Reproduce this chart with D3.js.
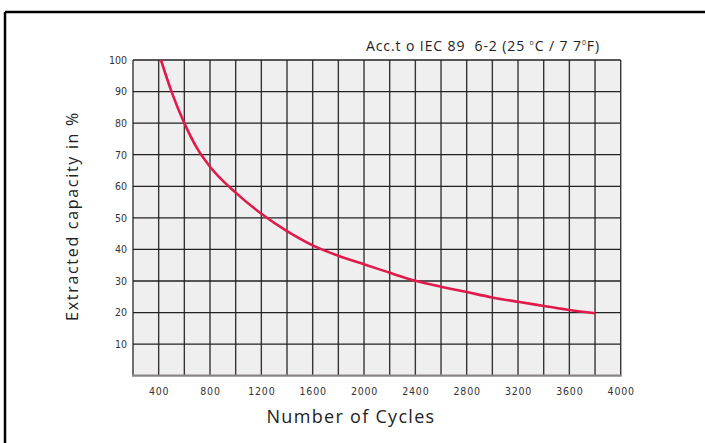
<!DOCTYPE html>
<html>
<head>
<meta charset="utf-8">
<script src="https://cdn.jsdelivr.net/npm/d3@7"></script>
<style>
	body { margin: 0; background: #fff; }
	svg { display: block; }
</style>
</head>
<body>
<script>
//	chart values
var cycles   = [418, 500, 600, 700, 800, 1000, 1200, 1400, 1600, 1800, 2000, 2200, 2400, 2600, 2800, 3000, 3200, 3400, 3600, 3800];
var capacity = [100, 90, 80, 72, 66.2, 58, 51.3, 45.8, 41.3, 38, 35.3, 32.6, 30.1, 28.2, 26.5, 24.8, 23.4, 22.1, 20.8, 19.8];
var xTickLabels = [400, 800, 1200, 1600, 2000, 2400, 2800, 3200, 3600, 4000];
var yTickLabels = [10, 20, 30, 40, 50, 60, 70, 80, 90, 100];
var xGrid = d3.range(200, 4001, 200);
var yGrid = d3.range(0, 101, 10);

var width = 705, height = 443;
var plot = {left: 133, right: 620.7, top: 60, bottom: 375.7};

var svg = d3.select("body").append("svg").attr("width", width).attr("height", height);

//	frame (left + top only, rest is cut off)
svg.append("line").attr("x1", 5).attr("y1", 12).attr("x2", width).attr("y2", 12).attr("stroke", "#000").attr("stroke-width", 2.5);
svg.append("line").attr("x1", 5).attr("y1", 12).attr("x2", 5).attr("y2", height).attr("stroke", "#000").attr("stroke-width", 2.5);

var x = d3.scaleLinear().domain([200, 4000]).range([plot.left, plot.right]);
var y = d3.scaleLinear().domain([0, 100]).range([plot.bottom, plot.top]);

svg.append("rect").attr("x", plot.left).attr("y", plot.top)
	.attr("width", plot.right - plot.left).attr("height", plot.bottom - plot.top)
	.attr("fill", "#efefef");

//	grid
svg.append("g").selectAll("line").data(xGrid).enter().append("line")
	.attr("x1", function(d){ return x(d); }).attr("x2", function(d){ return x(d); })
	.attr("y1", plot.top).attr("y2", plot.bottom)
	.attr("stroke", "#3a3535").attr("stroke-width", 1.4);
svg.append("g").selectAll("line").data(yGrid.slice(1)).enter().append("line")
	.attr("x1", plot.left).attr("x2", plot.right)
	.attr("y1", function(d){ return y(d); }).attr("y2", function(d){ return y(d); })
	.attr("stroke", "#222").attr("stroke-width", 1.3);
//	bottom axis line is grey
svg.append("line").attr("x1", plot.left - 1).attr("x2", plot.right + 1)
	.attr("y1", plot.bottom).attr("y2", plot.bottom)
	.attr("stroke", "#8a8585").attr("stroke-width", 2.2);

//	tick labels
var tickFont = "'DejaVu Sans Condensed', 'Liberation Sans Narrow', sans-serif";
var xAxis = d3.axisBottom(x).tickValues(xTickLabels).tickSize(0).tickPadding(12).tickFormat(d3.format("d"));
var gx = svg.append("g").attr("transform", "translate(0," + plot.bottom + ")").call(xAxis);
gx.select(".domain").remove();
gx.selectAll("text").attr("font-family", tickFont).attr("font-size", 10.5).attr("fill", "#333").attr("letter-spacing", 0.8);

var yAxis = d3.axisLeft(y).tickValues(yTickLabels).tickSize(0).tickPadding(6);
var gy = svg.append("g").attr("transform", "translate(" + plot.left + ",0)").call(yAxis);
gy.select(".domain").remove();
gy.selectAll("text").attr("font-family", tickFont).attr("font-size", 10.5).attr("fill", "#333");

//	curve
var line = d3.line()
	.x(function(d){ return x(d[0]); })
	.y(function(d){ return y(d[1]); })
	.curve(d3.curveMonotoneX);
svg.append("path").datum(d3.zip(cycles, capacity))
	.attr("d", line).attr("fill", "none")
	.attr("stroke", "#e01a4b").attr("stroke-width", 2.6);

//	texts
var labelFont = "'Open Sans', 'Noto Sans', sans-serif";
var title = svg.append("text").attr("x", 483).attr("y", 51).attr("text-anchor", "middle")
	.attr("font-family", labelFont).attr("font-size", 14).attr("fill", "#222").attr("letter-spacing", 0.9);
title.append("tspan").text("Acc.t o IEC 89  6-2 (25 ").attr("xml:space", "preserve");
title.append("tspan").text("o").attr("font-size", 7).attr("dy", -6);
title.append("tspan").text("C / 7 7").attr("dy", 6);
title.append("tspan").text("0").attr("font-size", 7).attr("dy", -6);
title.append("tspan").text("F)").attr("dy", 6);

svg.append("text").attr("x", 351).attr("y", 423).attr("text-anchor", "middle")
	.attr("font-family", labelFont).attr("font-size", 18).attr("fill", "#222").attr("letter-spacing", 1.3)
	.text("Number of Cycles");

svg.append("text").attr("transform", "translate(78,216) rotate(-90)").attr("text-anchor", "middle")
	.attr("font-family", labelFont).attr("font-size", 16).attr("fill", "#222").attr("letter-spacing", 1.7)
	.text("Extracted capacity in %");
</script>
</body>
</html>
